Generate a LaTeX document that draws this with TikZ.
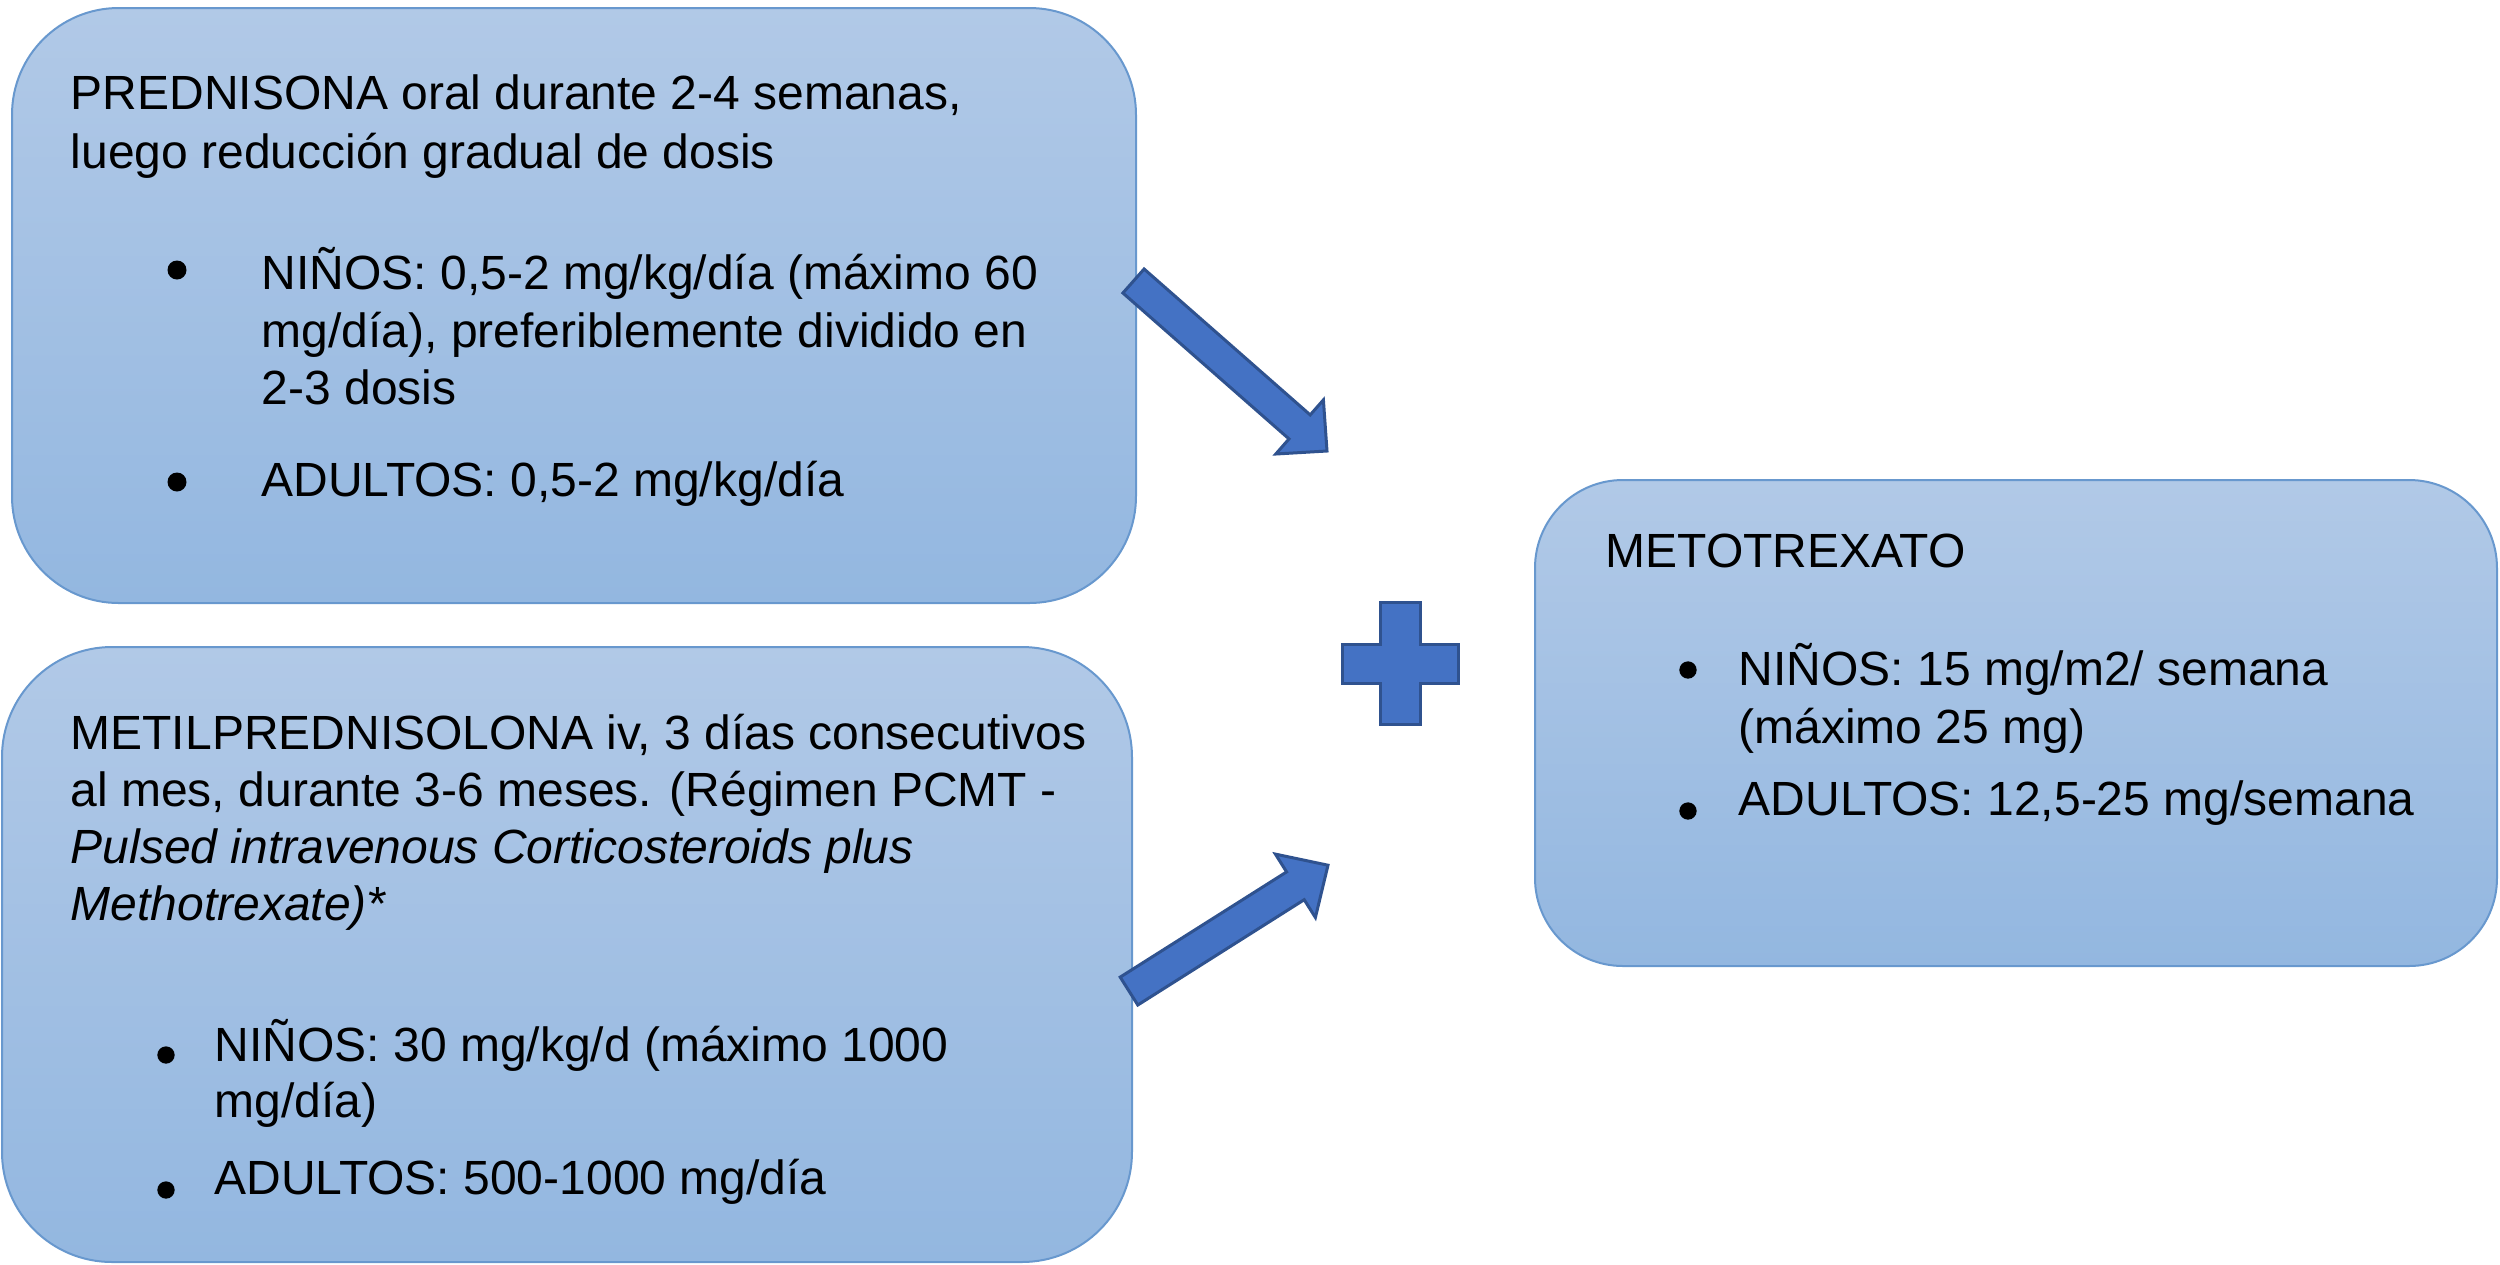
\documentclass[tikz,border=0pt]{standalone}
\usepackage{fontspec}
\setmainfont{Liberation Sans}
\definecolor{boxtop}{RGB}{177,201,231}
\definecolor{boxbot}{RGB}{147,183,224}
\definecolor{boxline}{RGB}{104,152,206}
\definecolor{arrfill}{RGB}{68,114,196}
\definecolor{arrline}{RGB}{47,82,143}
\begin{document}
\begin{tikzpicture}[x=0.3pt,y=-0.3pt,
  panel/.style={draw=boxline, line width=0.6pt, top color=boxtop, bottom color=boxbot, inner sep=0pt},
  txt/.style={anchor=base west, inner sep=0pt, text=black, font=\fontsize{14.4}{17}\selectfont},
  itxt/.style={txt, font=\fontsize{14.4}{17}\selectfont\itshape},
  blockarrow/.style={fill=arrfill, draw=arrline, line width=0.9pt, line join=miter},
  dot/.style={fill=black}]
\useasboundingbox[fill=white] (0,0) rectangle (2500,1264);

% panels
\node[panel, minimum width=337.2pt, minimum height=178.5pt, rounded corners=32pt] (b1) at (574,305.5) {};
\node[panel, minimum width=339pt, minimum height=184.5pt, rounded corners=33pt] (b2) at (567,954.5) {};
\node[panel, minimum width=288.6pt, minimum height=145.8pt, rounded corners=26.4pt] (b3) at (2016,723) {};

% box 1 text
\node[txt] (p1a) at (70,109) {PREDNISONA oral durante 2-4 semanas,};
\node[txt] (p1b) at (70,168) {luego reducción gradual de dosis};
\node[txt] (p1c) at (261,289) {NIÑOS: 0,5-2 mg/kg/día (máximo 60};
\node[txt] (p1d) at (261,347) {mg/día), preferiblemente dividido en};
\node[txt] (p1e) at (261,404) {2-3 dosis};
\node[txt] (p1f) at (261,496) {ADULTOS: 0,5-2 mg/kg/día};
\fill[dot] (177,270) circle[radius=2.85pt];
\fill[dot] (177,482) circle[radius=2.85pt];

% box 2 text
\node[txt] (p2a) at (70,749) {METILPREDNISOLONA iv, 3 días consecutivos};
\node[txt] (p2b) at (70,806) {al mes, durante 3-6 meses. (Régimen PCMT -};
\node[itxt] (p2c) at (70,863) {Pulsed intravenous Corticosteroids plus};
\node[itxt] (p2d) at (70,920) {Methotrexate)*};
\node[txt] (p2e) at (214,1061) {NIÑOS: 30 mg/kg/d (máximo 1000};
\node[txt] (p2f) at (214,1117) {mg/día)};
\node[txt] (p2g) at (214,1194) {ADULTOS: 500-1000 mg/día};
\fill[dot] (166,1055) circle[radius=2.6pt];
\fill[dot] (166,1190) circle[radius=2.6pt];

% box 3 text
\node[txt] (p3a) at (1605,567) {METOTREXATO};
\node[txt] (p3b) at (1738,685) {NIÑOS: 15 mg/m2/ semana};
\node[txt] (p3c) at (1738,743) {(máximo 25 mg)};
\node[txt] (p3d) at (1738,815) {ADULTOS: 12,5-25 mg/semana};
\fill[dot] (1688,670) circle[radius=2.6pt];
\fill[dot] (1688,811) circle[radius=2.6pt];

% block arrows
\draw[blockarrow] (1122.9,293.0) -- (1289.0,438.9) -- (1275.8,454.0) -- (1327,451)
  -- (1323.4,399.9) -- (1310.2,414.9) -- (1144.1,269.0) -- cycle;
\draw[blockarrow] (1137.8,1005.0) -- (1304.2,899.7) -- (1315.4,917.5) -- (1328,865.2)
  -- (1275.4,854.1) -- (1286.6,871.9) -- (1120.2,977.1) -- cycle;

% plus sign
\draw[blockarrow] (1380,602) -- (1420,602) -- (1420,644) -- (1458,644) -- (1458,683)
  -- (1420,683) -- (1420,724) -- (1380,724) -- (1380,683) -- (1342,683)
  -- (1342,644) -- (1380,644) -- cycle;
\end{tikzpicture}
\end{document}
